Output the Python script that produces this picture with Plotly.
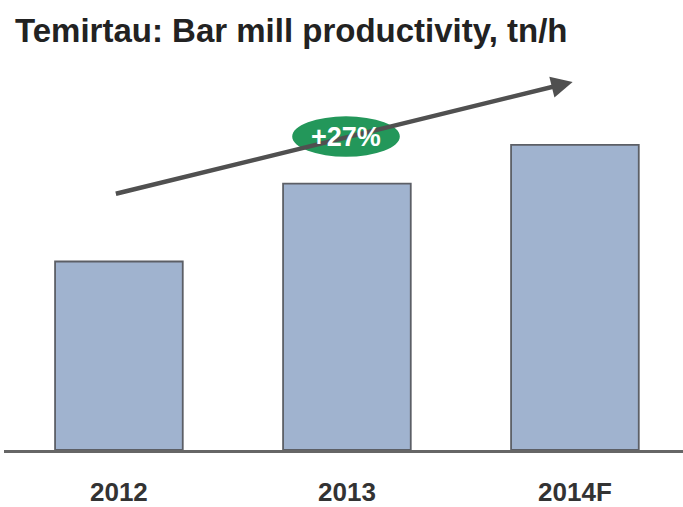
import plotly.graph_objects as go

categories = ["2012", "2013", "2014F"]
productivity = [63, 89, 102]
growth_label = "+27%"

fig = go.Figure()
fig.add_trace(go.Bar(
    x=categories, y=productivity, width=0.56,
    marker=dict(color="#a0b3cf", line=dict(color="#5c5f66", width=1.8)),
    hoverinfo="x+y",
))

# trend arrow
fig.add_annotation(
    x=1.99, y=123, ax=-0.02, ay=85.5,
    xref="x", yref="y", axref="x", ayref="y",
    showarrow=True, arrowhead=2, arrowsize=0.95, arrowwidth=4.5,
    arrowcolor="#505050", text="",
)
# green ellipse badge
fig.add_shape(type="circle", xref="x", yref="y",
              x0=0.76, x1=1.232, y0=98, y1=111.5,
              fillcolor="#23975a", line=dict(color="#23975a", width=0))
fig.add_annotation(x=0.996, y=104.6, xref="x", yref="y", text="<b>" + growth_label + "</b>",
                   showarrow=False, font=dict(family="Liberation Sans, Arial", size=27, color="white"))

fig.update_layout(
    width=683, height=507,
    margin=dict(l=4, r=0, t=61, b=55),
    paper_bgcolor="white", plot_bgcolor="white",
    showlegend=False,
    title=dict(text="<b>Temirtau: Bar mill productivity, tn/h</b>",
               x=15/683, xanchor="left", xref="container",
               y=1 - 30/507, yanchor="middle", yref="container",
               font=dict(family="Liberation Sans, Arial", size=33, color="#222222")),
    xaxis=dict(range=[-0.504, 2.474], showline=True, linecolor="#666666", linewidth=3,
               showgrid=False, zeroline=False, ticks="", ticklabelstandoff=17,
               tickfont=dict(family="Liberation Sans, Arial", size=26, color="#333333")),
    yaxis=dict(range=[0, 130], visible=False, showgrid=False, zeroline=False),
)
fig.update_xaxes(tickvals=categories, ticktext=["<b>%s</b>" % c for c in categories])
fig.write_html("out.html")
